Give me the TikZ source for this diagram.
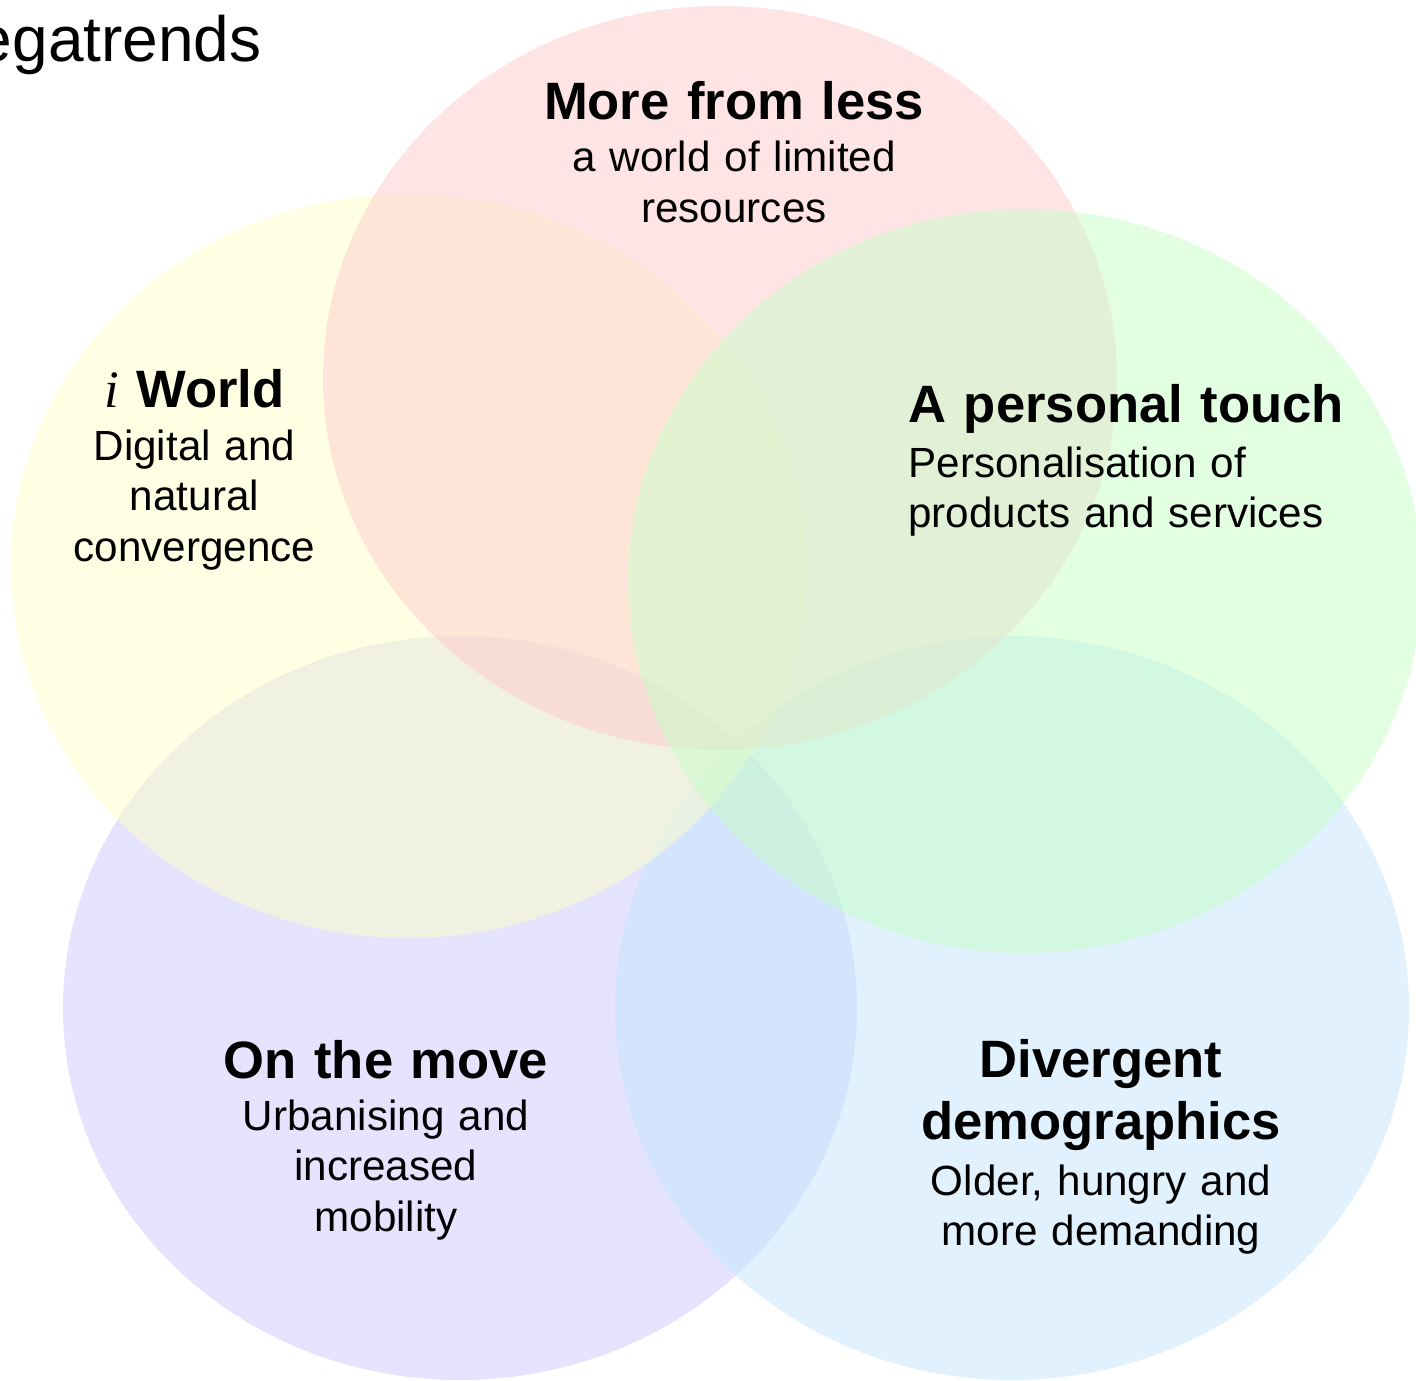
\documentclass[tikz,border=0pt]{standalone}
\usepackage{fontspec}
\setmainfont{Liberation Sans}
\newfontfamily\serifitalic{Liberation Serif}
\usetikzlibrary{positioning}
\definecolor{trendyellow}{HTML}{FFFFC7}
\definecolor{trendpink}{HTML}{FFC9CD}
\definecolor{trendgreen}{HTML}{C6FFC6}
\definecolor{trendpurple}{HTML}{CBC7FD}
\definecolor{trendblue}{HTML}{C3E5FD}
\tikzset{
    % Transparent trend ellipse
    trendfill/.style={
        fill=#1,
        fill opacity=0.5,
        draw=none
    },
    trendfill/.default=trendyellow,
    % Bold trend heading
    trendtitle/.style={
        inner sep=0pt,
        text width=240pt,
        align=center,
        font=\fontsize{26.3}{31}\selectfont\bfseries
    },
    % Plain trend description
    trendtext/.style={
        inner sep=0pt,
        text width=240pt,
        align=center,
        font=\fontsize{21.1}{25.3}\selectfont
    },
    % Slide heading
    slidetitle/.style={
        inner sep=0pt,
        font=\fontsize{32}{38}\selectfont
    }
}
\begin{document}
\begin{tikzpicture}[x=0.5pt, y=-0.5pt]

    \useasboundingbox (0,0) rectangle (1416,1380);
    \clip (0,0) rectangle (1416,1380);

    % Lower ellipses
    \fill[trendfill=trendpurple] (460,1008) ellipse [x radius=397, y radius=372];
    \fill[trendfill=trendblue] (1012,1008) ellipse [x radius=397, y radius=372];

    % Upper ellipses
    \fill[trendfill=trendyellow] (408,566) ellipse [x radius=397, y radius=372];
    \fill[trendfill=trendpink] (720,378) ellipse [x radius=397, y radius=372];
    \fill[trendfill=trendgreen] (1025,581) ellipse [x radius=397, y radius=372];

    % Slide heading
    \node[slidetitle, anchor=base east] (heading) at (262,62) {egatrends};

    % Trend headings
    \node[trendtitle, anchor=base] (iw-title) at (194.5,407) {{\serifitalic\mdseries\itshape i} World};
    \node[trendtitle, anchor=base] (mfl-title) at (734,120) {More from less};
    \node[trendtitle, align=left, anchor=base west] (apt-title) at (908,422) {A personal touch};
    \node[trendtitle, anchor=base] (otm-title) at (386,1078) {On the move};
    \node[trendtitle, anchor=base] (dd-title) at (1101,1077) {Divergent\\demographics};

    % Trend descriptions
    \node[trendtext, anchor=base] (iw-text) at ([yshift=-26.5pt]iw-title.base) {Digital and\\natural\\convergence};
    \node[trendtext, anchor=base] (mfl-text) at ([yshift=-26pt]mfl-title.base) {a world of limited\\resources};
    \node[trendtext, align=left, anchor=base west] (apt-text) at ([yshift=-27.5pt]apt-title.base west) {Personalisation of\\products and services};
    \node[trendtext, anchor=base] (otm-text) at ([yshift=-26pt]otm-title.base) {Urbanising and\\increased\\mobility};
    \node[trendtext, anchor=base] (dd-text) at ([yshift=-59pt]dd-title.base) {Older, hungry and\\more demanding};

\end{tikzpicture}
\end{document}
